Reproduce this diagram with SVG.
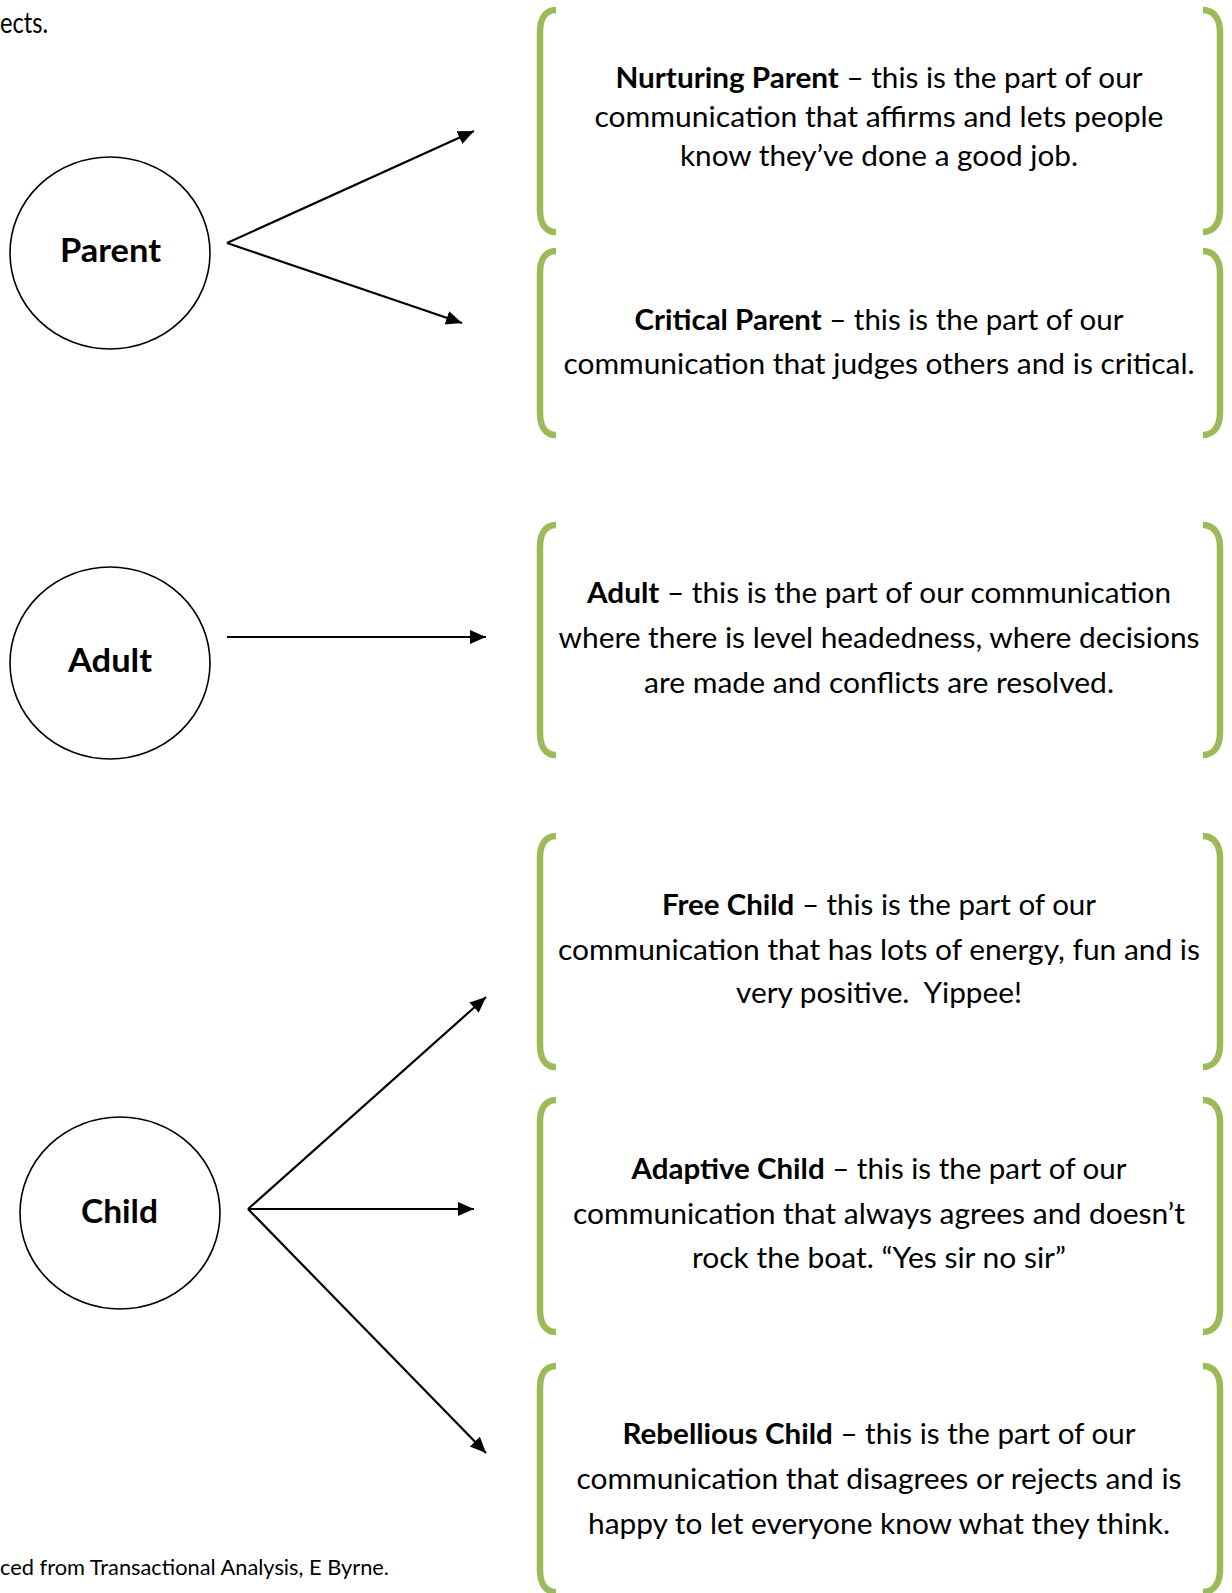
<svg xmlns="http://www.w3.org/2000/svg" width="1232" height="1593" viewBox="0 0 1232 1593">
<style>
  .t { font-family: Lato, "Open Sans", "Liberation Sans", sans-serif; font-size: 29px; fill: #000; }
  .b { font-weight: bold; }
  .lbl { font-family: Lato, "Open Sans", "Liberation Sans", sans-serif; font-size: 32px; font-weight: bold; fill: #000; }
  .foot { font-family: Lato, "Open Sans", "Liberation Sans", sans-serif; font-size: 21px; fill: #000; }
  .circ { fill: #fff; stroke: #000; stroke-width: 1.6; }
  .br { fill: none; stroke: #9BBB59; stroke-width: 6.5; stroke-linecap: butt; }
  .arr { stroke: #000; stroke-width: 2.2; fill: none; marker-end: url(#ah); }
</style>
<defs>
  <marker id="ah" markerUnits="userSpaceOnUse" markerWidth="18" markerHeight="16" refX="16" refY="7" orient="auto">
    <path d="M0,0 L16,7 L0,14 z" fill="#000"/>
  </marker>
</defs>
<rect width="1232" height="1593" fill="#fff"/>

<text class="t" x="48" y="33" text-anchor="end" textLength="48" lengthAdjust="spacingAndGlyphs">ects.</text>
<text class="foot" x="0" y="1575" textLength="389" lengthAdjust="spacingAndGlyphs">ced from Transactional Analysis, E Byrne.</text>

<g id="connectors">
  <line class="arr" x1="227" y1="243" x2="474" y2="131"/>
  <line class="arr" x1="227" y1="243" x2="462" y2="323"/>
  <line class="arr" x1="227" y1="637" x2="486" y2="637"/>
  <line class="arr" x1="248" y1="1209" x2="486" y2="997"/>
  <line class="arr" x1="248" y1="1209" x2="474" y2="1209"/>
  <line class="arr" x1="248" y1="1209" x2="486" y2="1453"/>
</g>

<g id="parent">
  <ellipse class="circ" cx="110" cy="253" rx="100" ry="96"/>
  <text class="lbl" x="110.5" y="262" text-anchor="middle" textLength="101" lengthAdjust="spacingAndGlyphs">Parent</text>
</g>
<g id="adult">
  <ellipse class="circ" cx="110" cy="663" rx="100" ry="96"/>
  <text class="lbl" x="110" y="672" text-anchor="middle" textLength="84" lengthAdjust="spacingAndGlyphs">Adult</text>
</g>
<g id="child">
  <ellipse class="circ" cx="120" cy="1213" rx="100" ry="96"/>
  <text class="lbl" x="119.5" y="1223" text-anchor="middle" textLength="77" lengthAdjust="spacingAndGlyphs">Child</text>
</g>

<g id="nurturing-parent">
  <path class="br" d="M556,10 C546,10 540,18 540,32 L540,210 C540,224 546,232 556,232"/>
  <path class="br" d="M1203,10 C1213,10 1220,18 1220,32 L1220,210 C1220,224 1213,232 1203,232"/>
  <text class="t" x="879" y="88" text-anchor="middle" textLength="527" lengthAdjust="spacingAndGlyphs"><tspan class="b">Nurturing Parent</tspan> – this is the part of our</text>
  <text class="t" x="879" y="127" text-anchor="middle" textLength="569" lengthAdjust="spacingAndGlyphs">communication that affirms and lets people</text>
  <text class="t" x="879" y="166" text-anchor="middle" textLength="398" lengthAdjust="spacingAndGlyphs">know they’ve done a good job.</text>
</g>

<g id="critical-parent">
  <path class="br" d="M556,251 C546,251 540,259 540,273 L540,413 C540,427 546,435 556,435"/>
  <path class="br" d="M1203,251 C1213,251 1220,259 1220,273 L1220,413 C1220,427 1213,435 1203,435"/>
  <text class="t" x="879" y="330" text-anchor="middle" textLength="489" lengthAdjust="spacingAndGlyphs"><tspan class="b">Critical Parent</tspan> – this is the part of our</text>
  <text class="t" x="879" y="374" text-anchor="middle" textLength="631" lengthAdjust="spacingAndGlyphs">communication that judges others and is critical.</text>
</g>

<g id="adult-desc">
  <path class="br" d="M556,525 C546,525 540,533 540,547 L540,733 C540,747 546,755 556,755"/>
  <path class="br" d="M1203,525 C1213,525 1220,533 1220,547 L1220,733 C1220,747 1213,755 1203,755"/>
  <text class="t" x="879" y="603" text-anchor="middle" textLength="584" lengthAdjust="spacingAndGlyphs"><tspan class="b">Adult</tspan> – this is the part of our communication</text>
  <text class="t" x="879" y="648" text-anchor="middle" textLength="641" lengthAdjust="spacingAndGlyphs">where there is level headedness, where decisions</text>
  <text class="t" x="879" y="693" text-anchor="middle" textLength="470" lengthAdjust="spacingAndGlyphs">are made and conflicts are resolved.</text>
</g>

<g id="free-child">
  <path class="br" d="M556,836 C546,836 540,844 540,858 L540,1045 C540,1059 546,1067 556,1067"/>
  <path class="br" d="M1203,836 C1213,836 1220,844 1220,858 L1220,1045 C1220,1059 1213,1067 1203,1067"/>
  <text class="t" x="879" y="915" text-anchor="middle" textLength="434" lengthAdjust="spacingAndGlyphs"><tspan class="b">Free Child</tspan> – this is the part of our</text>
  <text class="t" x="879" y="960" text-anchor="middle" textLength="642" lengthAdjust="spacingAndGlyphs">communication that has lots of energy, fun and is</text>
  <text class="t" x="879" y="1003" text-anchor="middle" textLength="286" lengthAdjust="spacingAndGlyphs">very positive.&#160; Yippee!</text>
</g>

<g id="adaptive-child">
  <path class="br" d="M556,1100 C546,1100 540,1108 540,1122 L540,1310 C540,1324 546,1332 556,1332"/>
  <path class="br" d="M1203,1100 C1213,1100 1220,1108 1220,1122 L1220,1310 C1220,1324 1213,1332 1203,1332"/>
  <text class="t" x="879" y="1179" text-anchor="middle" textLength="495" lengthAdjust="spacingAndGlyphs"><tspan class="b">Adaptive Child</tspan> – this is the part of our</text>
  <text class="t" x="879" y="1224" text-anchor="middle" textLength="612" lengthAdjust="spacingAndGlyphs">communication that always agrees and doesn’t</text>
  <text class="t" x="879" y="1268" text-anchor="middle" textLength="374" lengthAdjust="spacingAndGlyphs">rock the boat. “Yes sir no sir”</text>
</g>

<g id="rebellious-child">
  <path class="br" d="M556,1366 C546,1366 540,1374 540,1388 L540,1570 C540,1584 546,1592 556,1592"/>
  <path class="br" d="M1203,1366 C1213,1366 1220,1374 1220,1388 L1220,1570 C1220,1584 1213,1592 1203,1592"/>
  <text class="t" x="879" y="1444" text-anchor="middle" textLength="513" lengthAdjust="spacingAndGlyphs"><tspan class="b">Rebellious Child</tspan> – this is the part of our</text>
  <text class="t" x="879" y="1489" text-anchor="middle" textLength="605" lengthAdjust="spacingAndGlyphs">communication that disagrees or rejects and is</text>
  <text class="t" x="879" y="1534" text-anchor="middle" textLength="582" lengthAdjust="spacingAndGlyphs">happy to let everyone know what they think.</text>
</g>
</svg>
